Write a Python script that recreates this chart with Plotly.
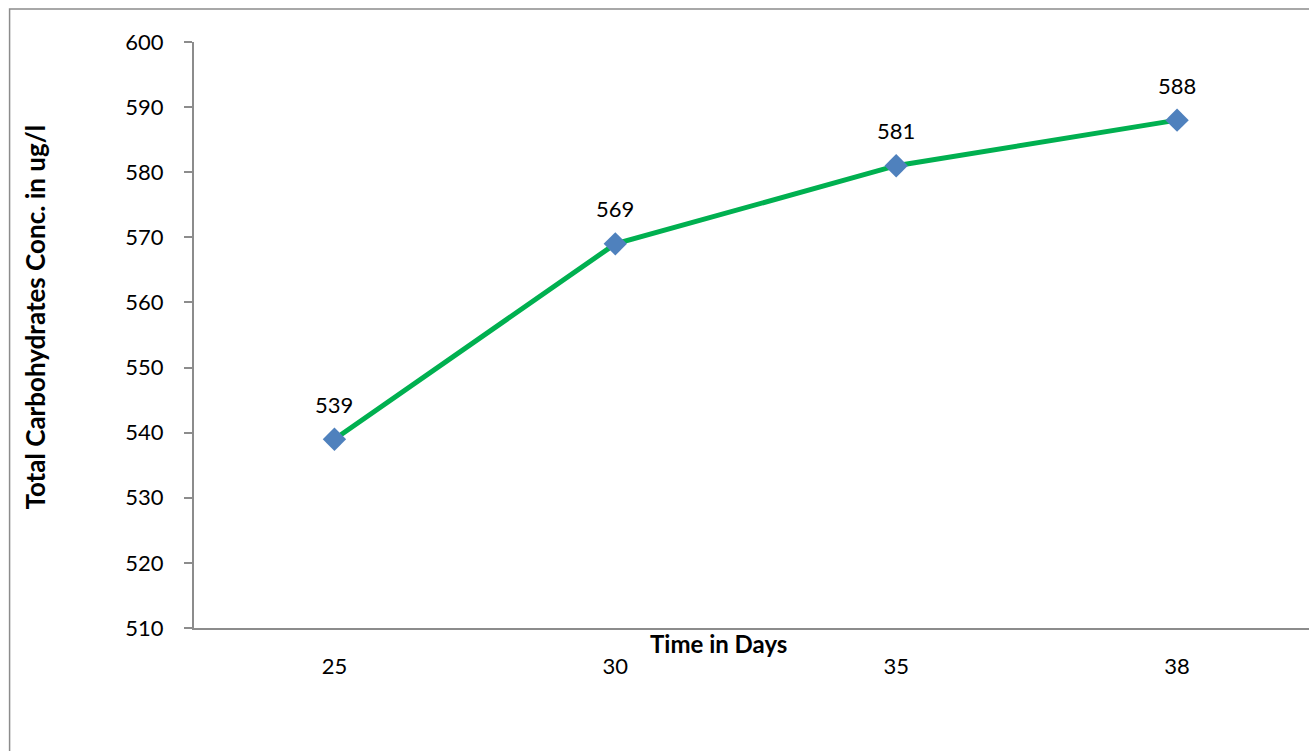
import plotly.graph_objects as go

# Sampling days and measured total carbohydrate concentration (ug/l)
days = ["25", "30", "35", "38"]
carbs = [539, 569, 581, 588]
y_ticks = [510, 520, 530, 540, 550, 560, 570, 580, 590, 600]

W, H = 1309, 751
L, T, B = 193.5, 42, 123
plot_w = W - L
plot_h = H - T - B

def px_x(x):
    return (x - L) / plot_w

def px_y(y):
    return (H - B - y) / plot_h

axis_grey = "#8c8c8c"
font_family = "Lato, Calibri, sans-serif"

fig = go.Figure()
fig.add_trace(go.Scatter(
    x=days, y=carbs,
    mode="lines+markers",
    line=dict(color="#00b050", width=5),
    marker=dict(symbol="diamond", size=18, color="#4f81bd",
                line=dict(color="#4f81bd", width=0)),
    showlegend=False,
    hoverinfo="x+y",
))

# value labels above each point (category index used as x position)
for i, v in enumerate(carbs):
    fig.add_annotation(x=i, y=v, xref="x", yref="y", text=str(v), showarrow=False,
                       yshift=35, font=dict(size=22, color="#000000", family=font_family))

# x-axis title
fig.add_annotation(xref="paper", yref="paper", x=px_x(718), y=px_y(643),
                   text="<b>Time in Days</b>", showarrow=False,
                   xanchor="center", yanchor="middle",
                   font=dict(size=24, color="#000000", family=font_family))

# y-axis title
fig.add_annotation(xref="paper", yref="paper", x=px_x(34), y=px_y(317),
                   text="<b>Total Carbohydrates Conc. in ug/l</b>", showarrow=False,
                   textangle=-90, xanchor="center", yanchor="middle",
                   font=dict(size=26, color="#000000", family=font_family))

# chart frame
fig.add_shape(type="rect", xref="paper", yref="paper",
              x0=px_x(9), y0=px_y(H + 20), x1=px_x(W + 20), y1=px_y(9),
              line=dict(color="#8c8c8c", width=1.5), fillcolor="rgba(0,0,0,0)",
              layer="below")

fig.update_layout(
    width=W, height=H,
    margin=dict(l=L, r=0, t=T, b=B, pad=0),
    paper_bgcolor="white", plot_bgcolor="white",
    font=dict(family=font_family, size=22, color="#000000"),
    xaxis=dict(
        type="category", range=[-0.5, -0.5 + plot_w / 281.0],
        showline=True, linecolor=axis_grey, linewidth=2,
        ticks="", showgrid=False, zeroline=False,
        tickfont=dict(size=22), ticklabelstandoff=18,
    ),
    yaxis=dict(
        range=[510, 600], tickvals=y_ticks,
        showline=True, linecolor=axis_grey, linewidth=2,
        ticks="outside", ticklen=8, tickcolor=axis_grey, tickwidth=2,
        showgrid=False, zeroline=False,
        tickfont=dict(size=22), ticklabelstandoff=16,
    ),
)

fig.write_html("out.html")
